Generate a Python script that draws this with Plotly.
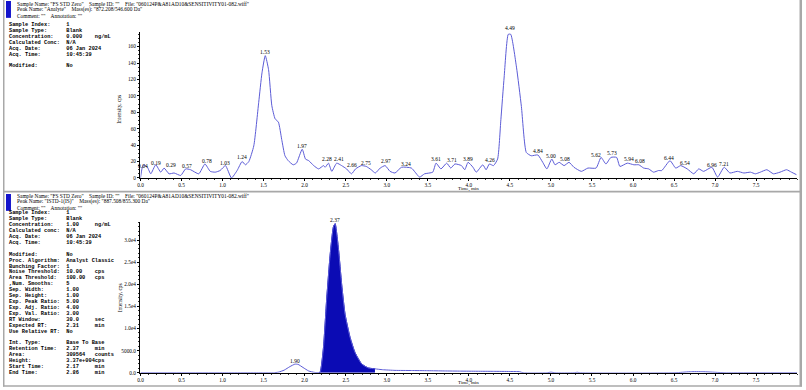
import plotly.graph_objects as go

# ---------------- data ----------------
top_time = [0.00, 0.02, 0.04, 0.085, 0.125, 0.186, 0.247, 0.287, 0.348, 0.409, 0.49, 0.55, 0.61, 0.71,
            0.785, 0.85, 0.91, 0.97, 1.035, 1.108, 1.177, 1.238, 1.278, 1.32, 1.38, 1.44, 1.48, 1.52,
            1.56, 1.60, 1.64, 1.68, 1.72, 1.76, 1.80, 1.86, 1.90, 1.97, 2.01, 2.05, 2.11, 2.17, 2.23,
            2.25, 2.29, 2.33, 2.39, 2.45, 2.51, 2.57, 2.62, 2.69, 2.75, 2.81, 2.86, 2.92, 2.98, 3.04,
            3.10, 3.18, 3.30, 3.40, 3.46, 3.56, 3.60, 3.66, 3.73, 3.78, 3.83, 3.91, 3.95, 3.99, 4.05,
            4.09, 4.17, 4.21, 4.25, 4.30, 4.35, 4.39, 4.43, 4.48, 4.51, 4.58, 4.64, 4.70, 4.76, 4.84,
            4.90, 4.95, 5.01, 5.05, 5.10, 5.16, 5.22, 5.28, 5.37, 5.45, 5.55, 5.61, 5.67, 5.73, 5.80,
            5.84, 5.93, 6.01, 6.07, 6.13, 6.19, 6.25, 6.31, 6.35, 6.45, 6.52, 6.58, 6.66, 6.74, 6.80,
            6.86, 6.96, 7.03, 7.11, 7.18, 7.27, 7.35, 7.43, 7.49, 7.55, 7.63, 7.71, 7.79, 7.87, 7.93, 7.99]
top_intensity = [0, 12, 16, 13, 5, 16, 7, 12, 5, 6, 3, 11, 10, 5,
                 17, 8, 7, 9, 15, 0, 9, 20, 16, 20, 39, 92, 128, 149,
                 132, 88, 72, 68, 47, 27, 21, 16, 18, 35, 23, 21, 15, 11, 15,
                 13, 18, 8, 18, 15, 11, 5, 11, 15, 14, 10, 6, 12, 15, 8,
                 6, 13, 12, 1, 5, 7, 18, 11, 18, 12, 17, 15, 10, 19, 13,
                 7, 16, 10, 17, 15, 23, 71, 123, 175, 175, 135, 87, 31, 27, 28,
                 19, 11, 23, 16, 19, 15, 19, 13, 8, 12, 12, 25, 17, 25, 25,
                 14, 18, 16, 16, 12, 11, 7, 9, 9, 21, 12, 15, 11, 5, 11,
                 8, 13, 1, 13, 6, 8, 6, 7, 5, 7, 10, 5, 7, 10, 7, 4]

top_label_text = ["0.04", "0.19", "0.29", "0.57", "0.78", "1.03", "1.24", "1.53", "1.97", "2.28",
                  "2.41", "2.66", "2.75", "2.97", "3.24", "3.61", "3.71", "3.89", "4.26", "4.49",
                  "4.84", "5.00", "5.08", "5.62", "5.73", "5.94", "6.08", "6.44", "6.54", "6.96", "7.21"]
top_label_time = [0.033, 0.186, 0.368, 0.57, 0.805, 1.03, 1.24, 1.52, 1.97, 2.27,
                  2.42, 2.58, 2.75, 2.99, 3.24, 3.60, 3.79, 3.99, 4.26, 4.50,
                  4.84, 5.00, 5.17, 5.55, 5.74, 5.95, 6.08, 6.44, 6.63, 6.96, 7.11]
top_label_level = [14.5, 18.5, 15.3, 14.1, 20.1, 18.5, 25.4, 153, 39.4, 22.5,
                   22.5, 16.1, 18.5, 20.1, 16.5, 22.5, 21.3, 23.3, 21.3, 182.6,
                   32.2, 27.3, 23.3, 28.2, 30.2, 22.5, 20.1, 24.2, 18.5, 15.3, 16.5]

bot_pre_time = [0.0, 0.5, 1.0, 1.5, 1.62, 1.68, 1.75, 1.82, 1.88, 1.92, 1.98, 2.05, 2.12, 2.17]
bot_pre_intensity = [0, 0, 0, 0, 0, 150, 600, 1400, 1950, 1900, 1200, 400, 100, 0]
peak_time = [2.17, 2.19, 2.229, 2.269, 2.31, 2.35, 2.371, 2.411, 2.451, 2.492, 2.553, 2.613, 2.694, 2.775, 2.856]
peak_intensity = [0, 200, 5700, 16900, 26600, 33000, 33700, 28100, 19900, 13200, 8000, 4600, 2000, 1100, 900]
bot_post_time = [2.95, 3.1, 3.3, 3.5, 3.7, 3.9, 4.1, 4.3, 4.5, 4.62, 4.66, 4.95, 5.0, 5.05, 5.28, 5.32,
                 5.36, 6.5, 6.6, 6.7, 6.85, 7.0, 7.12, 7.2, 8.0]
bot_post_intensity = [700, 550, 520, 480, 420, 380, 350, 330, 300, 250, 0, 0, 150, 0, 0, 120,
                      0, 0, 120, 250, 250, 120, 0, 0, 0]

bot_label_text = ["1.90", "2.37"]
bot_label_time = [1.88, 2.371]
bot_label_level = [2780, 34500]

x_tickvals = [0.0, 0.5, 1.0, 1.5, 2.0, 2.5, 3.0, 3.5, 4.0, 4.5, 5.0, 5.5, 6.0, 6.5, 7.0, 7.5]
x_ticktext = ["0.0", "0.5", "1.0", "1.5", "2.0", "2.5", "3.0", "3.5", "4.0", "4.5", "5.0", "5.5",
              "6.0", "6.5", "7.0", "7.5"]
top_y_tickvals = [0, 20, 40, 60, 80, 100, 120, 140, 160]
top_y_ticktext = ["0", "20", "40", "60", "80", "100", "120", "140", "160"]
bot_y_tickvals = [0, 5000, 10000, 15000, 20000, 25000, 30000]
bot_y_ticktext = ["0.0", "5000.0", "1.0e4", "1.5e4", "2.0e4", "2.5e4", "3.0e4"]

top_header = ['Sample Name: "FS STD Zero"    Sample ID: ""    File: "060124P&A81AD10&SENSITIVITY01-082.wiff"',
              'Peak Name: "Analyte"    Mass(es): "872.208/546.600 Da"',
              'Comment: ""    Annotation: ""']
bot_header = ['Sample Name: "FS STD Zero"    Sample ID: ""    File: "060124P&A81AD10&SENSITIVITY01-082.wiff"',
              'Peak Name: "ISTD-1(IS)"    Mass(es): "887.508/855.300 Da"',
              'Comment: ""    Annotation: ""']

top_info = [("Sample Index:", "1", ""), ("Sample Type:", "Blank", ""),
            ("Concentration:", "0.000", "ng/mL"), ("Calculated Conc:", "N/A", ""),
            ("Acq. Date:", "06 Jan 2024", ""), ("Acq. Time:", "10:45:39", ""),
            ("", "", ""), ("Modified:", "No", "")]
bot_info = [("Sample Index:", "1", ""), ("Sample Type:", "Blank", ""),
            ("Concentration:", "1.00", "ng/mL"), ("Calculated conc:", "N/A", ""),
            ("Acq. Date:", "06 Jan 2024", ""), ("Acq. Time:", "10:45:39", ""),
            ("", "", ""), ("Modified:", "No", ""),
            ("Proc. Algorithm:", "Analyst Classic", ""), ("Bunching Factor:", "1", ""),
            ("Noise Threshold:", "10.00", "cps"), ("Area Threshold:", "100.00", "cps"),
            (",Num. Smooths:", "5", ""), ("Sep. Width:", "1.00", ""), ("Sep. Height:", "1.00", ""),
            ("Exp. Peak Ratio:", "5.00", ""), ("Exp. Adj. Ratio:", "4.00", ""),
            ("Exp. Val. Ratio:", "3.00", ""), ("RT Window:", "30.0", "sec"),
            ("Expected RT:", "2.31", "min"), ("Use Relative RT:", "No", ""),
            ("", "", ""), ("Int. Type:", "Base To Base", ""),
            ("Retention Time:", "2.37", "min"), ("Area:", "309564", "counts"),
            ("Height:", "3.37e+004", "cps"), ("Start Time:", "2.17", "min"),
            ("End Time:", "2.86", "min")]

# ---------------- figure ----------------
W, H = 806, 390


def px(x):
    return x / W


def py(y):
    return 1 - y / H


LINE = "#5c5cd6"
FILL = "#0b0bb4"
SERIF = "Liberation Serif"
MONO = "Liberation Mono"

TOP_MAX = 178
BOT_MAX = 34000
TOP_PX_PER_UNIT = 0.827
BOT_PX_PER_UNIT = 22.3 / 5000

fig = go.Figure()
fig.add_trace(go.Scatter(x=top_time, y=top_intensity, mode="lines", xaxis="x", yaxis="y",
                         line=dict(color=LINE, width=1, shape="spline", smoothing=0.5),
                         hoverinfo="skip", showlegend=False))
fig.add_trace(go.Scatter(x=peak_time, y=peak_intensity, mode="lines", xaxis="x2", yaxis="y2",
                         fill="tozeroy", fillcolor=FILL,
                         line=dict(color=FILL, width=1, shape="spline", smoothing=0.5),
                         hoverinfo="skip", showlegend=False))
fig.add_trace(go.Scatter(x=bot_pre_time + peak_time + bot_post_time,
                         y=bot_pre_intensity + peak_intensity + bot_post_intensity,
                         mode="lines", xaxis="x2", yaxis="y2",
                         line=dict(color=LINE, width=1, shape="spline", smoothing=0.5),
                         hoverinfo="skip", showlegend=False))

xdom = [px(138), px(138 + 8.0 * 82.4)]
top_ydom = [py(179.3), py(179.3 - TOP_MAX * TOP_PX_PER_UNIT)]
bot_ydom = [py(375.7), py(375.7 - BOT_MAX * BOT_PX_PER_UNIT)]

tickfont = dict(family=SERIF, size=5.3, color="black")
xcommon = dict(domain=xdom, range=[0, 8.0], showline=True, linecolor="black", linewidth=1,
               ticks="outside", ticklen=2, tickwidth=1, tickcolor="black",
               tickvals=x_tickvals, ticktext=x_ticktext, tickfont=tickfont,
               minor=dict(dtick=0.1, tick0=0, ticks="outside", ticklen=1.5, tickcolor="#333"),
               showgrid=False, zeroline=False, fixedrange=True)
ycommon = dict(showline=True, linecolor="black", linewidth=1, ticks="outside", ticklen=2.5,
               tickwidth=1, tickcolor="black", tickfont=tickfont, showgrid=False,
               zeroline=False, fixedrange=True)

fig.update_layout(
    width=W, height=H, margin=dict(l=0, r=0, t=0, b=0),
    paper_bgcolor="white", plot_bgcolor="white", showlegend=False,
    xaxis=dict(anchor="y", **xcommon),
    xaxis2=dict(anchor="y2", **xcommon),
    yaxis=dict(anchor="x", domain=top_ydom, range=[0, TOP_MAX], tickvals=top_y_tickvals,
               ticktext=top_y_ticktext,
               minor=dict(dtick=5, tick0=0, ticks="outside", ticklen=1.5, tickcolor="#333"),
               **ycommon),
    yaxis2=dict(anchor="x2", domain=bot_ydom, range=[0, BOT_MAX], tickvals=bot_y_tickvals,
                ticktext=bot_y_ticktext,
                minor=dict(dtick=1000, tick0=0, ticks="outside", ticklen=1.5, tickcolor="#333"),
                **ycommon),
)

ann = []
lab_font = dict(family=SERIF, size=5.5, color="black")
for t, x, y in zip(top_label_text, top_label_time, top_label_level):
    yy = min(y, TOP_MAX - 1)
    ann.append(dict(x=x, y=yy, xref="x", yref="y", text=t, showarrow=False, font=lab_font,
                    xanchor="center", yanchor="middle", yshift=(y - yy) * TOP_PX_PER_UNIT))
for t, x, y in zip(bot_label_text, bot_label_time, bot_label_level):
    yy = min(y, BOT_MAX - 100)
    ann.append(dict(x=x, y=yy, xref="x2", yref="y2", text=t, showarrow=False, font=lab_font,
                    xanchor="center", yanchor="middle", yshift=(y - yy) * BOT_PX_PER_UNIT))

# axis titles
for yy in (190.3, 386.2):
    ann.append(dict(x=px(467), y=py(yy), xref="paper", yref="paper", text="Time, min",
                    showarrow=False, font=dict(family=SERIF, size=5, color="black"),
                    xanchor="center", yanchor="middle"))
for yy in (110, 300):
    ann.append(dict(x=px(117), y=py(yy), xref="paper", yref="paper", text="Intensity, cps",
                    textangle=-90, showarrow=False, font=dict(family=SERIF, size=5.5, color="black"),
                    xanchor="center", yanchor="middle"))

# headers
for i, line in enumerate(top_header):
    ann.append(dict(x=px(12), y=py(4 + 6 * i), xref="paper", yref="paper", text=line,
                    showarrow=False, font=dict(family=SERIF, size=5.4, color="black"),
                    xanchor="left", yanchor="middle"))
for i, line in enumerate(bot_header):
    ann.append(dict(x=px(12), y=py(197.5 + 6 * i), xref="paper", yref="paper", text=line,
                    showarrow=False, font=dict(family=SERIF, size=5.4, color="black"),
                    xanchor="left", yanchor="middle"))


def info_line(lab, val, unit):
    s = lab.ljust(18) + val.ljust(9) + unit
    return "<b>" + s.replace(" ", "\u00a0") + "</b>"


for i, (a, b, c) in enumerate(top_info):
    if not a:
        continue
    ann.append(dict(x=px(4), y=py(25 + 6.0 * i), xref="paper", yref="paper", text=info_line(a, b, c),
                    showarrow=False, font=dict(family=MONO, size=5.3, color="black"),
                    xanchor="left", yanchor="middle"))
for i, (a, b, c) in enumerate(bot_info):
    if not a:
        continue
    ann.append(dict(x=px(4), y=py(215 + 5.96 * i), xref="paper", yref="paper", text=info_line(a, b, c),
                    showarrow=False, font=dict(family=MONO, size=5.3, color="black"),
                    xanchor="left", yanchor="middle"))

fig.update_layout(annotations=ann)

GRAY = "#a8a8a8"
shapes = [
    dict(type="rect", xref="paper", yref="paper", x0=0, x1=px(1.5), y0=py(389.5), y1=1,
         fillcolor=GRAY, line=dict(width=0)),
    dict(type="rect", xref="paper", yref="paper", x0=px(799.5), x1=px(802), y0=py(389.5), y1=1,
         fillcolor=GRAY, line=dict(width=0)),
    dict(type="rect", xref="paper", yref="paper", x0=0, x1=px(802), y0=py(194), y1=py(192.2),
         fillcolor=GRAY, line=dict(width=0)),
    dict(type="rect", xref="paper", yref="paper", x0=0, x1=px(802), y0=py(389.8), y1=py(388.2),
         fillcolor=GRAY, line=dict(width=0)),
    dict(type="rect", xref="paper", yref="paper", x0=px(3), x1=px(8), y0=py(18), y1=py(1),
         fillcolor="#1414cc", line=dict(width=0)),
    dict(type="rect", xref="paper", yref="paper", x0=px(3), x1=px(8), y0=py(212.5), y1=py(195.5),
         fillcolor="#1414cc", line=dict(width=0)),
]
fig.update_layout(shapes=shapes)

fig.write_html("out.html")
